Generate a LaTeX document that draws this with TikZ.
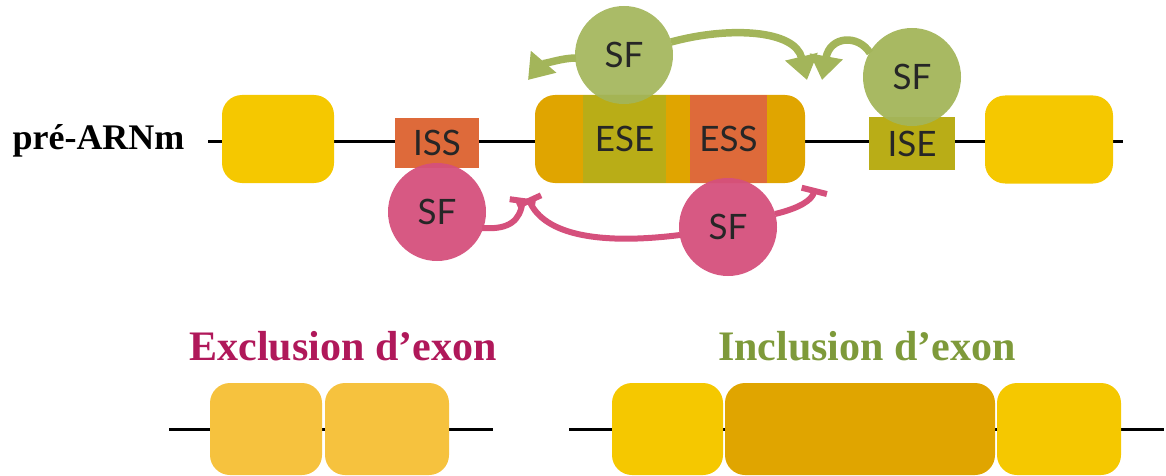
\documentclass[tikz,border=0pt]{standalone}
\usepackage{fontspec}
\setmainfont{Liberation Serif}
\setsansfont{Lato}
\usetikzlibrary{arrows.meta}
\definecolor{exonyel}{HTML}{F5C800}
\definecolor{exonmid}{HTML}{E0A500}
\definecolor{exonpale}{HTML}{F6C23E}
\definecolor{ssred}{HTML}{DE6A3A}
\definecolor{seolive}{HTML}{B9AD17}
\definecolor{sfgreen}{HTML}{A3B55A}
\definecolor{sfpink}{HTML}{D5507C}
\definecolor{exclcol}{HTML}{B0185A}
\definecolor{inclcol}{HTML}{7E9A3A}
\newcommand{\sftext}{\sffamily\fontsize{35}{37}\selectfont}
\newcommand{\titletext}{\bfseries\fontsize{42}{46}\selectfont}
\tikzset{
  exon/.style = {rounded corners = 20pt, inner sep = 0pt, minimum height = 88pt},
  motif/.style = {inner sep = 0pt, font = \sftext, text = black!85},
  factor/.style = {circle, inner sep = 0pt, minimum size = 98pt, font = \sftext, text = black!85},
  rna/.style = {line width = 3pt, black},
  enhance/.style = {line width = 7.5pt, sfgreen, -{Triangle[width = 32pt, length = 24pt]}},
  silence/.style = {line width = 6pt, sfpink, -{Bar[width = 26pt, line width = 6pt]}}
}
\begin{document}
\begin{tikzpicture}[x = 1pt, y = -1pt]
      \useasboundingbox (0,0) rectangle (1166,476);
      % pre-mRNA
      \node [font = \bfseries\fontsize{36}{40}\selectfont, anchor = base west] (pre) at (9,149) {pré-ARNm};
      \coordinate (rnaL) at (208,141);
      \coordinate (rnaR) at (1123,141);
      \draw [rna] (rnaL) -- (rnaR);
      \node [exon, fill = exonyel, minimum width = 112pt] (exA) at (278,139) {};
      \node [motif, fill = ssred, minimum width = 84pt, minimum height = 50pt] (iss) at (437,143) {ISS};
      \node [exon, fill = exonmid, minimum width = 270pt] (exB) at (670,139) {};
      \node [motif, fill = seolive, minimum width = 83pt, minimum height = 88pt] (ese) at (624.5,139) {ESE};
      \node [motif, fill = ssred, minimum width = 77pt, minimum height = 88pt] (ess) at (728.5,139) {ESS};
      \node [motif, fill = seolive, minimum width = 86pt, minimum height = 53pt] (ise) at (912,143.5) {ISE};
      \node [exon, fill = exonyel, minimum width = 128pt] (exC) at (1049,139.5) {};
      % splicing factors
      \coordinate (sfEpos) at (624,55);
      \coordinate (sfIpos) at (912,77);
      \coordinate (sfS1pos) at (437,212);
      \coordinate (sfS2pos) at (728,227);
      \coordinate (tipL) at (528,80);
      \coordinate (tipM) at (807,80);
      \coordinate (tipR) at (822,80);
      \coordinate (barA) at (523,198);
      \coordinate (barB) at (528,198);
      \coordinate (barC) at (815,188);
      \draw [enhance] ([shift = {(-48,3)}] sfEpos) .. controls (560,58) and (540,66) .. (tipL);
      \draw [enhance] ([shift = {(47,-13)}] sfEpos) .. controls (730,26) and (795,30) .. (tipM);
      \draw [enhance] ([shift = {(-42,-24)}] sfIpos) .. controls (858,34) and (830,36) .. (tipR);
      \draw [silence] ([shift = {(45,16)}] sfS1pos) .. controls (510,230) and (520,220) .. (barA);
      \draw [silence] ([shift = {(-48,8)}] sfS2pos) .. controls (600,245) and (545,235) .. (barB);
      \draw [silence] ([shift = {(47,-13)}] sfS2pos) .. controls (800,208) and (812,200) .. (barC);
      \node [factor, fill = sfgreen, fill opacity = .92, text opacity = 1] (sfE) at (sfEpos) {SF};
      \node [factor, fill = sfgreen, fill opacity = .95, text opacity = 1] (sfI) at (sfIpos) {SF};
      \node [factor, fill = sfpink, fill opacity = .95, text opacity = 1] (sfS1) at (sfS1pos) {SF};
      \node [factor, fill = sfpink, fill opacity = .95, text opacity = 1] (sfS2) at (sfS2pos) {SF};
      % outcomes
      \node [font = \titletext, text = exclcol, anchor = base] (excl) at (343,360) {Exclusion d’exon};
      \node [font = \titletext, text = inclcol, anchor = base] (incl) at (867,360) {Inclusion d’exon};
      \coordinate (exclL) at (169,429);
      \coordinate (exclR) at (493,429);
      \coordinate (inclL) at (569,429);
      \coordinate (inclR) at (1164,429);
      \draw [rna] (exclL) -- (exclR);
      \draw [rna] (inclL) -- (inclR);
      \node [exon, fill = exonpale, minimum width = 112pt, minimum height = 92pt] (skA) at (266,429) {};
      \node [exon, fill = exonpale, minimum width = 124pt, minimum height = 92pt] (skB) at (387,429) {};
      \node [exon, fill = exonyel, minimum width = 111pt, minimum height = 92pt] (inA) at (667.5,429) {};
      \node [exon, fill = exonmid, minimum width = 270pt, minimum height = 92pt] (inB) at (860,429) {};
      \node [exon, fill = exonyel, minimum width = 124pt, minimum height = 92pt] (inC) at (1059,429) {};
    \end{tikzpicture}
\end{document}
